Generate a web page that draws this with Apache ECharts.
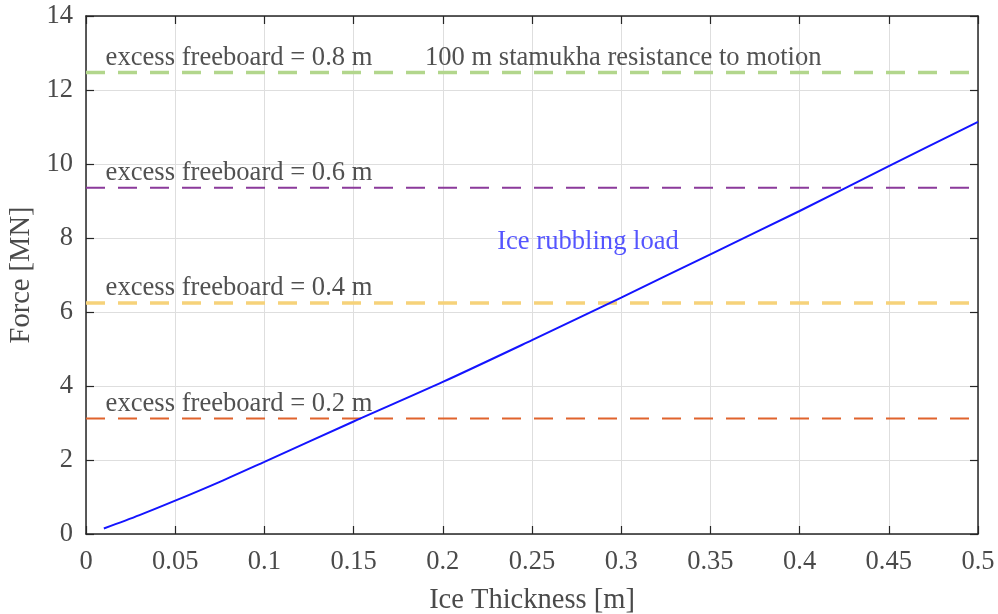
<!DOCTYPE html>
<html>
<head>
<meta charset="utf-8">
<script src="https://cdn.jsdelivr.net/npm/echarts@6/dist/echarts.min.js"></script>
<style>html,body{margin:0;padding:0;background:#fff;}#c{width:998px;height:614px;}</style>
</head>
<body>
<div id="c"></div>
<script>
// Ice rubbling load curve
var thickness = [0.01, 0.03, 0.05, 0.075, 0.10, 0.15, 0.20, 0.25, 0.30, 0.35, 0.40, 0.45, 0.50];
var rubblingLoad = [0.15, 0.51, 0.90, 1.41, 1.95, 3.04, 4.11, 5.24, 6.39, 7.56, 8.73, 9.94, 11.14];

// Stamukha resistance levels (excess freeboard)
var freeboardLabels = ['excess freeboard = 0.2 m', 'excess freeboard = 0.4 m', 'excess freeboard = 0.6 m', 'excess freeboard = 0.8 m'];
var resistance = [3.12, 6.24, 9.36, 12.47];
var lineColors = ['#e0632c', '#f6d27a', '#8b3a9b', '#b2d68c'];
var lineWidths = [2, 3.5, 2, 3.5];

// Axis ticks
var xTicks = [0, 0.05, 0.1, 0.15, 0.2, 0.25, 0.3, 0.35, 0.4, 0.45, 0.5];
var yTicks = [0, 2, 4, 6, 8, 10, 12, 14];

// Annotation positions (data coords)
var labelX = 0.011;
var labelOffset = 0.40;
var titleText = '100 m stamukha resistance to motion';
var titlePos = [0.19, 12.87];
var curveText = 'Ice rubbling load';
var curvePos = [0.2305, 7.88];

var FONT = '"Liberation Serif", "Times New Roman", serif';
var chart = echarts.init(document.getElementById('c'), null, {renderer: 'canvas'});

var series = [];
for (var i = 0; i < resistance.length; i++) {
  series.push({
    type: 'line', silent: true, symbol: 'none', z: 3,
    data: [[xTicks[0], resistance[i]], [xTicks[xTicks.length - 1], resistance[i]]],
    lineStyle: {color: lineColors[i], width: lineWidths[i], type: [19, 13]}
  });
}
series.push({
  type: 'line', silent: true, symbol: 'none', smooth: 0.3, z: 4,
  data: thickness.map(function (t, k) { return [t, rubblingLoad[k]]; }),
  lineStyle: {color: '#1414ff', width: 2}
});
var annot = freeboardLabels.map(function (s, k) {
  return {value: [labelX, resistance[k] + labelOffset], label: {formatter: s}};
});
annot.push({value: titlePos, label: {formatter: titleText}});
annot.push({value: curvePos, label: {formatter: curveText, color: '#2a2aff'}});
series.push({
  type: 'scatter', silent: true, symbolSize: 0, z: 5,
  data: annot,
  label: {show: true, position: 'right', distance: 0, verticalAlign: 'middle',
          fontFamily: FONT, fontSize: 26.6, color: '#262626'}
});

var axisLineStyle = {color: '#262626', width: 1.5};
function ticks() { return {show: true, inside: true, length: 8, lineStyle: {color: '#262626', width: 1.2}}; }
function fmt(v) { return String(parseFloat(v.toFixed(2))); }

chart.setOption({
  animation: false,
  backgroundColor: '#ffffff',
  grid: {left: 86, right: 20, top: 16, bottom: 80, containLabel: false, outerBoundsMode: 'none'},
  xAxis: [{
    type: 'value', position: 'bottom', min: xTicks[0], max: xTicks[xTicks.length - 1], interval: 0.05,
    name: 'Ice Thickness [m]', nameLocation: 'middle', nameGap: 52,
    nameTextStyle: {fontFamily: FONT, fontSize: 28.5, color: '#4a4a4a'},
    axisLine: {show: true, onZero: false, lineStyle: axisLineStyle},
    axisTick: ticks(),
    axisLabel: {fontFamily: FONT, fontSize: 26.5, color: '#4a4a4a', margin: 15, formatter: fmt},
    splitLine: {show: true, lineStyle: {color: '#dedede', width: 1}}
  }, {
    type: 'value', position: 'top', min: xTicks[0], max: xTicks[xTicks.length - 1], interval: 0.05,
    axisLine: {show: true, onZero: false, lineStyle: axisLineStyle},
    axisTick: ticks(), axisLabel: {show: false}, splitLine: {show: false}
  }],
  yAxis: [{
    type: 'value', position: 'left', min: yTicks[0], max: yTicks[yTicks.length - 1], interval: 2,
    name: 'Force [MN]', nameLocation: 'middle', nameGap: 40, nameRotate: 90,
    nameTextStyle: {fontFamily: FONT, fontSize: 28.5, color: '#4a4a4a'},
    axisLine: {show: true, onZero: false, lineStyle: axisLineStyle},
    axisTick: ticks(),
    axisLabel: {fontFamily: FONT, fontSize: 26.5, color: '#4a4a4a', margin: 13},
    splitLine: {show: true, lineStyle: {color: '#dedede', width: 1}}
  }, {
    type: 'value', position: 'right', min: yTicks[0], max: yTicks[yTicks.length - 1], interval: 2,
    axisLine: {show: true, onZero: false, lineStyle: axisLineStyle},
    axisTick: ticks(), axisLabel: {show: false}, splitLine: {show: false}
  }],
  series: series
});
</script>
</body>
</html>
